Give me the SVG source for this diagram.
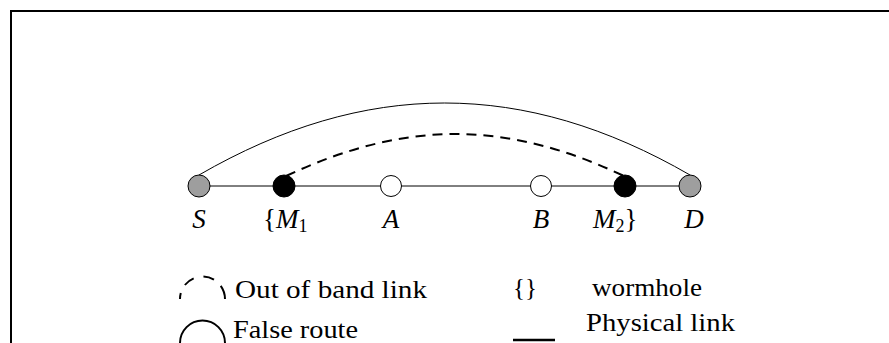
<svg xmlns="http://www.w3.org/2000/svg" width="889" height="343" viewBox="0 0 889 343">
<style>
.t{font-family:"Liberation Serif","DejaVu Serif","Times New Roman",serif;font-size:25px;fill:#000}
.l{font-size:27px}
.i{font-style:italic}
.n{stroke:#000;stroke-width:1}
.g{fill:#9e9e9e}
.b{fill:#000}
.w{fill:#fff}
</style>
<rect x="11" y="11" width="900" height="400" fill="#fff" stroke="#000" stroke-width="2"/>
<g id="connectors" fill="none" stroke="#000">
<line x1="199" y1="186" x2="690" y2="186" stroke-width="1"/>
<path d="M199,175 C365,79 524,79 690,175" stroke-width="1"/>
<path d="M286,176 C406,120 505,120 624,176" stroke-width="2" stroke-dasharray="10,7"/>
</g>
<g id="S"><circle class="n g" cx="199" cy="186" r="11"/><text class="t l i" x="199" y="228" text-anchor="middle">S</text></g>
<g id="M1"><circle class="n b" cx="284" cy="186" r="11"/><text class="t l" x="263" y="228">{<tspan class="i">M</tspan><tspan font-size="18" dy="4">1</tspan></text></g>
<g id="A"><circle class="n w" cx="391" cy="186" r="10.5"/><text class="t l i" x="391" y="228" text-anchor="middle">A</text></g>
<g id="B"><circle class="n w" cx="541" cy="186" r="10.5"/><text class="t l i" x="541" y="228" text-anchor="middle">B</text></g>
<g id="M2"><circle class="n b" cx="625" cy="186" r="11"/><text class="t l" x="593" y="228"><tspan class="i">M</tspan><tspan font-size="18" dy="4">2</tspan><tspan dy="-4">}</tspan></text></g>
<g id="D"><circle class="n g" cx="690" cy="186" r="11"/><text class="t l i" x="694" y="228" text-anchor="middle">D</text></g>
<g id="legend">
<path d="M180,299 A22.5,22.5 0 0 1 225,299" fill="none" stroke="#000" stroke-width="2" pathLength="70" stroke-dasharray="6 9 11 10 11 9 14"/>
<text class="t" x="235" y="298" textLength="192" lengthAdjust="spacingAndGlyphs">Out of band link</text>
<path d="M180,343 A22.5,22.5 0 0 1 225,343" fill="none" stroke="#000" stroke-width="2"/>
<text class="t" x="233" y="338" textLength="125" lengthAdjust="spacingAndGlyphs">False route</text>
<text class="t" x="513" y="296">{}</text>
<text class="t" x="592" y="296" textLength="110" lengthAdjust="spacingAndGlyphs">wormhole</text>
<line x1="513" y1="340" x2="555" y2="340" stroke="#000" stroke-width="2.5"/>
<text class="t" x="586" y="331" textLength="149" lengthAdjust="spacingAndGlyphs">Physical link</text>
</g>
</svg>
